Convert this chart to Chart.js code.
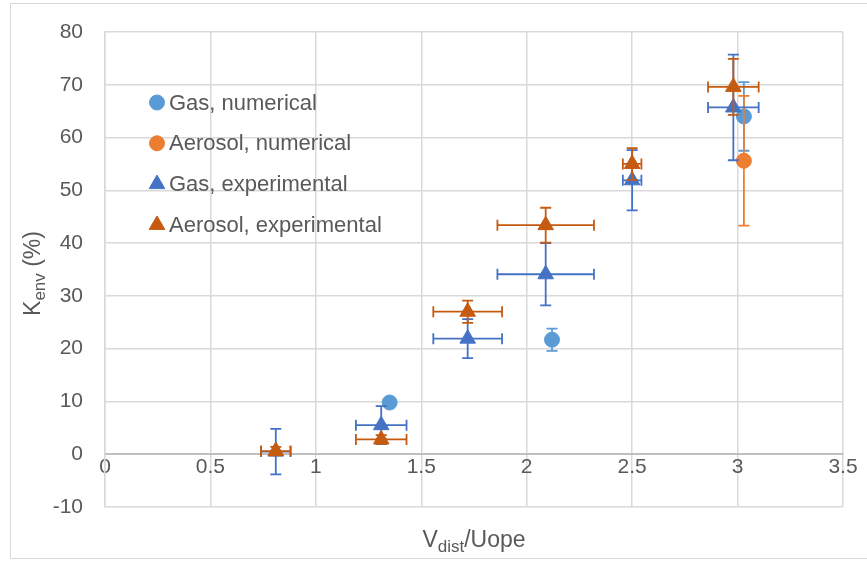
<!DOCTYPE html>
<html>
<head>
<meta charset="utf-8">
<script src="https://cdn.jsdelivr.net/npm/chart.js@4.4.1/dist/chart.umd.min.js"></script>
<style>
  html, body { margin: 0; padding: 0; background: #fff; }
  #wrap { width: 867px; height: 561px; }
</style>
</head>
<body>
<div id="wrap"><canvas id="chart" width="867" height="561"></canvas></div>
<script>
// Series
const gasNumX = [1.35, 2.12, 3.03];
const gasNumY = [9.8, 21.7, 64.0];
const gasNumYErr = [0, 2.1, 6.5];

const aeroNumX = [3.03];
const aeroNumY = [55.6];
const aeroNumYErr = [12.3];

const expX = [0.81, 1.31, 1.72, 2.09, 2.50, 2.98];
const expXErr = [0.07, 0.12, 0.163, 0.229, 0.044, 0.12];
const gasExpY = [0.5, 5.5, 21.9, 34.1, 51.9, 65.7];
const gasExpYErr = [4.3, 3.6, 3.7, 5.9, 5.7, 10.0];
const aeroExpY = [0.6, 2.8, 27.0, 43.4, 55.0, 69.6];
const aeroExpYErr = [0.8, 0.8, 2.1, 3.3, 3.0, 5.3];

const seriesNames = ['Gas, numerical', 'Aerosol, numerical', 'Gas, experimental', 'Aerosol, experimental'];
const xTickLabels = ['0', '0.5', '1', '1.5', '2', '2.5', '3', '3.5'];
const yTickLabels = ['-10', '0', '10', '20', '30', '40', '50', '60', '70', '80'];

const FONT = "'Liberation Sans', Arial, sans-serif";
const TEXT = '#595959';
const GRID = '#D9D9D9';
const colors = ['#5B9BD5', '#ED7D31', '#4472C4', '#C55A11'];

function points(xs, ys, xErr, yErr) {
    return xs.map((x, i) => ({ x: x, y: ys[i], xe: xErr ? xErr[i] : 0, ye: yErr ? yErr[i] : 0 }));
}

function makeSet(i, data, style, radius, order) {
    return {
        label: seriesNames[i],
        data: data,
        pointStyle: style,
        pointRadius: radius,
        pointHoverRadius: radius,
        pointBackgroundColor: colors[i],
        pointBorderColor: colors[i],
        pointBorderWidth: 1,
        showLine: false,
        order: order
    };
}

// error bars, drawn under each dataset's markers
const errorBars = {
    id: 'errorBars',
    beforeDatasetDraw(chart, args) {
        const ctx = chart.ctx;
        const xs = chart.scales.x, ys = chart.scales.y;
        const color = chart.data.datasets[args.index].pointBorderColor;
        const cap = 5.5;
        ctx.save();
        ctx.strokeStyle = color;
        ctx.lineWidth = 1.8;
        chart.data.datasets[args.index].data.forEach(p => {
            const px = xs.getPixelForValue(p.x), py = ys.getPixelForValue(p.y);
            ctx.beginPath();
            if (p.ye) {
                const t = ys.getPixelForValue(p.y + p.ye), b = ys.getPixelForValue(p.y - p.ye);
                ctx.moveTo(px, t); ctx.lineTo(px, b);
                ctx.moveTo(px - cap, t); ctx.lineTo(px + cap, t);
                ctx.moveTo(px - cap, b); ctx.lineTo(px + cap, b);
            }
            if (p.xe) {
                const l = xs.getPixelForValue(p.x - p.xe), r = xs.getPixelForValue(p.x + p.xe);
                ctx.moveTo(l, py); ctx.lineTo(r, py);
                ctx.moveTo(l, py - cap); ctx.lineTo(l, py + cap);
                ctx.moveTo(r, py - cap); ctx.lineTo(r, py + cap);
            }
            ctx.stroke();
        });
        ctx.restore();
    }
};

// frame, axis titles with subscripts, legend inside the plot
const decorations = {
    id: 'decorations',
    beforeDraw(chart) {
        const ctx = chart.ctx;
        ctx.save();
        ctx.strokeStyle = GRID;
        ctx.lineWidth = 1;
        ctx.strokeRect(10.5, 3.5, 900, 555);
        ctx.restore();
    },
    afterDraw(chart) {
        const ctx = chart.ctx;
        const area = chart.chartArea;
        ctx.save();
        ctx.fillStyle = TEXT;
        ctx.textBaseline = 'alphabetic';

        // x title: V_dist/Uope
        const big = '23px ' + FONT, small = '17px ' + FONT;
        ctx.font = big; const wV = ctx.measureText('V').width, wU = ctx.measureText('/Uope').width;
        ctx.font = small; const wD = ctx.measureText('dist').width;
        let x = (area.left + area.right) / 2 - (wV + wD + wU) / 2;
        const yb = 547;
        ctx.font = big; ctx.fillText('V', x, yb); x += wV;
        ctx.font = small; ctx.fillText('dist', x, yb + 5); x += wD;
        ctx.font = big; ctx.fillText('/Uope', x, yb);

        // y title: K_env (%)
        ctx.translate(40, (area.top + area.bottom) / 2 + 4);
        ctx.rotate(-Math.PI / 2);
        ctx.font = big; const wK = ctx.measureText('K').width, wP = ctx.measureText(' (%)').width;
        ctx.font = small; const wE = ctx.measureText('env').width;
        x = -(wK + wE + wP) / 2;
        ctx.font = big; ctx.fillText('K', x, 0); x += wK;
        ctx.font = small; ctx.fillText('env', x, 5); x += wE;
        ctx.font = big; ctx.fillText(' (%)', x, 0);
        ctx.restore();

        // legend
        ctx.save();
        ctx.font = '22px ' + FONT;
        ctx.textBaseline = 'middle';
        chart.data.datasets.forEach((ds, i) => {
            const ly = 102.5 + i * 40.8;
            ctx.fillStyle = colors[i];
            ctx.strokeStyle = colors[i];
            ctx.lineWidth = 1;
            Chart.helpers.drawPoint(ctx, { pointStyle: ds.pointStyle, radius: ds.pointRadius, borderWidth: 1 }, 157, ly);
            ctx.fillStyle = TEXT;
            ctx.fillText(ds.label, 169, ly + 1);
        });
        ctx.restore();
    }
};

new Chart(document.getElementById('chart'), {
    type: 'scatter',
    data: {
        datasets: [
            makeSet(0, points(gasNumX, gasNumY, null, gasNumYErr), 'circle', 7.5, 4),
            makeSet(1, points(aeroNumX, aeroNumY, null, aeroNumYErr), 'circle', 7.5, 3),
            makeSet(2, points(expX, gasExpY, expXErr, gasExpYErr), 'triangle', 9, 2),
            makeSet(3, points(expX, aeroExpY, expXErr, aeroExpYErr), 'triangle', 9, 1)
        ]
    },
    options: {
        responsive: false,
        animation: false,
        events: [],
        layout: { padding: { left: 0, right: 24, top: 32, bottom: 54 } },
        plugins: { legend: { display: false }, tooltip: { enabled: false } },
        scales: {
            x: {
                type: 'linear',
                position: { y: 0 },
                min: 0, max: 3.5,
                ticks: {
                    stepSize: 0.5,
                    padding: 0,
                    color: TEXT,
                    font: { family: FONT, size: 21 },
                    maxRotation: 0,
                    callback: (v, i) => xTickLabels[i]
                },
                grid: { color: GRID, lineWidth: 1.5, drawTicks: false },
                border: { color: '#BFBFBF', width: 2 }
            },
            y: {
                type: 'linear',
                min: -10, max: 80,
                afterFit(scale) {
                    scale.width = 105;
                    scale.paddingTop = 0;
                    scale.paddingBottom = 0;
                },
                ticks: {
                    stepSize: 10,
                    padding: 22,
                    color: TEXT,
                    font: { family: FONT, size: 21 },
                    callback: (v, i) => yTickLabels[i]
                },
                grid: { color: GRID, lineWidth: 1.5, drawTicks: false },
                border: { color: GRID, width: 1.5 }
            }
        }
    },
    plugins: [errorBars, decorations]
});
</script>
</body>
</html>
